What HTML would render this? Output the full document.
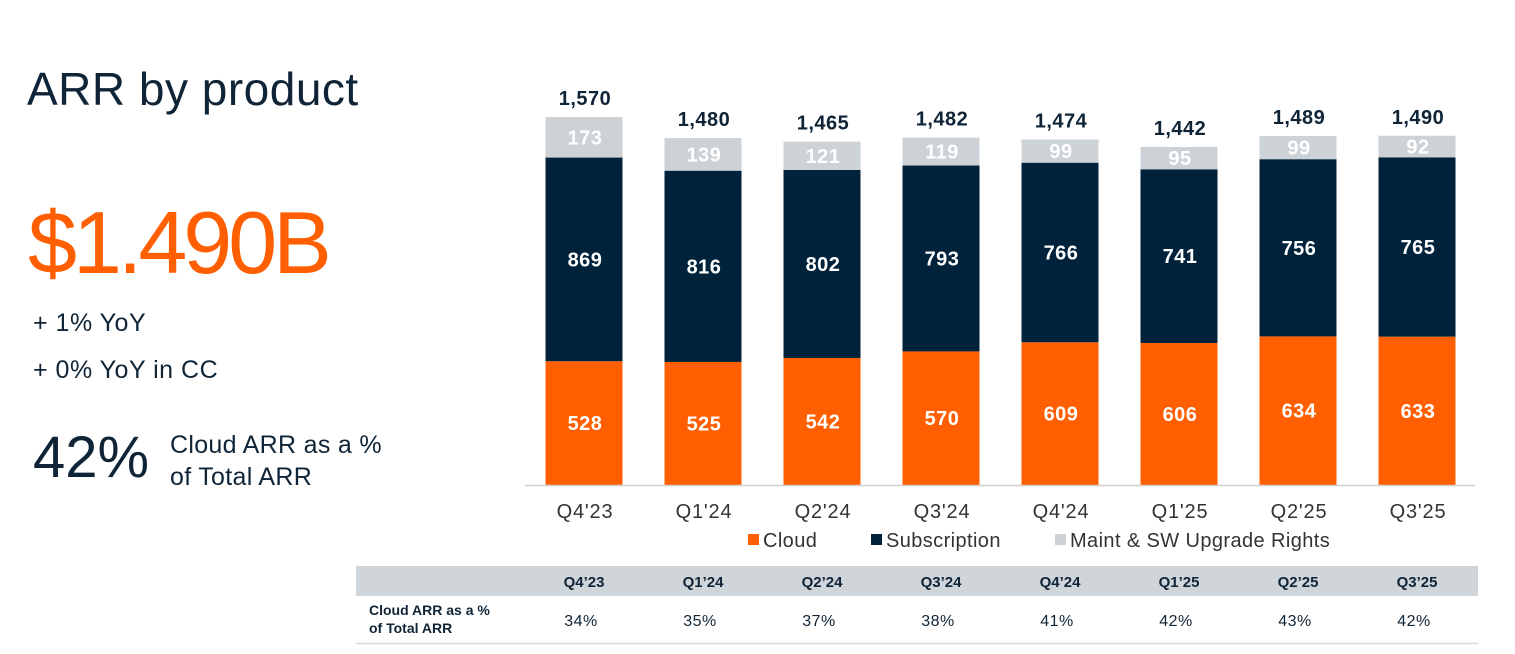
<!DOCTYPE html>
<html><head><meta charset="utf-8"><style>
body{margin:0;width:1515px;height:654px;background:#fff;font-family:"Liberation Sans",sans-serif;overflow:hidden;position:relative}
.abs{position:absolute}
</style></head><body>
<div class="abs" style="left:27px;top:62px;font-size:46px;color:#0f2436;letter-spacing:0.5px">ARR by product</div>
<div class="abs" style="left:28px;top:192px;font-size:88px;color:#ff5f00;letter-spacing:-4px">$1.490B</div>
<div class="abs" style="left:33px;top:309px;font-size:25px;color:#0f2436;letter-spacing:0.5px">+ 1% YoY</div>
<div class="abs" style="left:33px;top:356px;font-size:25px;color:#0f2436;letter-spacing:0.5px">+ 0% YoY in CC</div>
<div class="abs" style="left:33px;top:424px;font-size:58px;color:#0f2436">42%</div>
<div class="abs" style="left:170px;top:429px;font-size:25px;line-height:32px;color:#0f2436;letter-spacing:0.3px">Cloud ARR as a %<br>of Total ARR</div>
<svg class="abs" style="left:0;top:0" width="1515" height="654" id="chart"></svg>
<script>
const categories=["Q4'23","Q1'24","Q2'24","Q3'24","Q4'24","Q1'25","Q2'25","Q3'25"];
const cloud=[528,525,542,570,609,606,634,633];
const subscription=[869,816,802,793,766,741,756,765];
const maint=[173,139,121,119,99,95,99,92];
const totals=[1570,1480,1465,1482,1474,1442,1489,1490];
const cloudPct=["34%","35%","37%","38%","41%","42%","43%","42%"];
const NS="http://www.w3.org/2000/svg";
const svg=document.getElementById('chart');
const base=485, scale=368/1570;
const y=v=>base-v*scale;
const xc=i=>584+i*119;
const bw=77;
function mk(tag,attrs,text){const e=document.createElementNS(NS,tag);for(const k in attrs)e.setAttribute(k,attrs[k]);if(text!==undefined)e.textContent=text;svg.appendChild(e);return e;}
const series=[[cloud,"#ff5f00","#fff","cloud"],[subscription,"#00223a","#fff","subscription"],[maint,"#cdd2d7","#fff","maint"]];
categories.forEach((c,i)=>{
  let acc=0;
  series.forEach(([arr,col,tc,nm])=>{
    const v=arr[i];
    const r=mk('rect',{x:xc(i)-bw/2,y:y(acc+v),width:bw,height:v*scale,fill:col});
    
    
    const t=mk('text',{x:xc(i)+1,y:y(acc+v/2)+7,'text-anchor':'middle','font-size':20,'font-weight':'bold',fill:tc,'font-family':'Liberation Sans','letter-spacing':0.5},v);
    
    
    acc+=v;
  });
  const tt=mk('text',{x:xc(i)+1,y:y(totals[i])-12,'text-anchor':'middle','font-size':20,'font-weight':'bold',fill:'#0f2436','font-family':'Liberation Sans','letter-spacing':0.5},totals[i].toLocaleString('en-US'));
  
  
  const xl=mk('text',{x:xc(i)+1,y:518,'text-anchor':'middle','font-size':20,fill:'#333','font-family':'Liberation Sans','letter-spacing':0.8},c);
  
  
  const th=mk('text',{x:xc(i),y:587,'text-anchor':'middle','font-size':15,'font-weight':'bold',fill:'#0f2436','font-family':'Liberation Sans'},c.replace("'","’"));
  
  
  const tv=mk('text',{x:xc(i)-3,y:626,'text-anchor':'middle','font-size':16,fill:'#0f2436','font-family':'Liberation Sans','letter-spacing':0.5},cloudPct[i]);
  
  
});
const ax=mk('line',{x1:525,x2:1475,y1:485.5,y2:485.5,stroke:'#d0d0d0','stroke-width':1.5});


// legend
[["Cloud","#ff5f00",748],["Subscription","#00223a",871],["Maint & SW Upgrade Rights","#cdd2d7",1055]].forEach(([l,c,x],k)=>{
  const r=mk('rect',{x:x,y:534,width:11,height:11,fill:c});
  
  
  const t=mk('text',{x:x+15,y:547,'font-size':20,fill:'#333','font-family':'Liberation Sans','letter-spacing':0.4},l);
  
  
});
// table
const hb=mk('rect',{x:356,y:566,width:1122,height:30,fill:'#d0d5da'});


svg.insertBefore(hb,svg.firstChild);
const bl=mk('line',{x1:356,x2:1478,y1:643.5,y2:643.5,stroke:'#d8d8d8','stroke-width':1.5});


const rl1=mk('text',{x:369,y:615,'font-size':14,'font-weight':'bold',fill:'#0f2436','font-family':'Liberation Sans'},'Cloud ARR as a %');


const rl2=mk('text',{x:369,y:633,'font-size':14,'font-weight':'bold',fill:'#0f2436','font-family':'Liberation Sans'},'of Total ARR');


</script>
</body></html>
